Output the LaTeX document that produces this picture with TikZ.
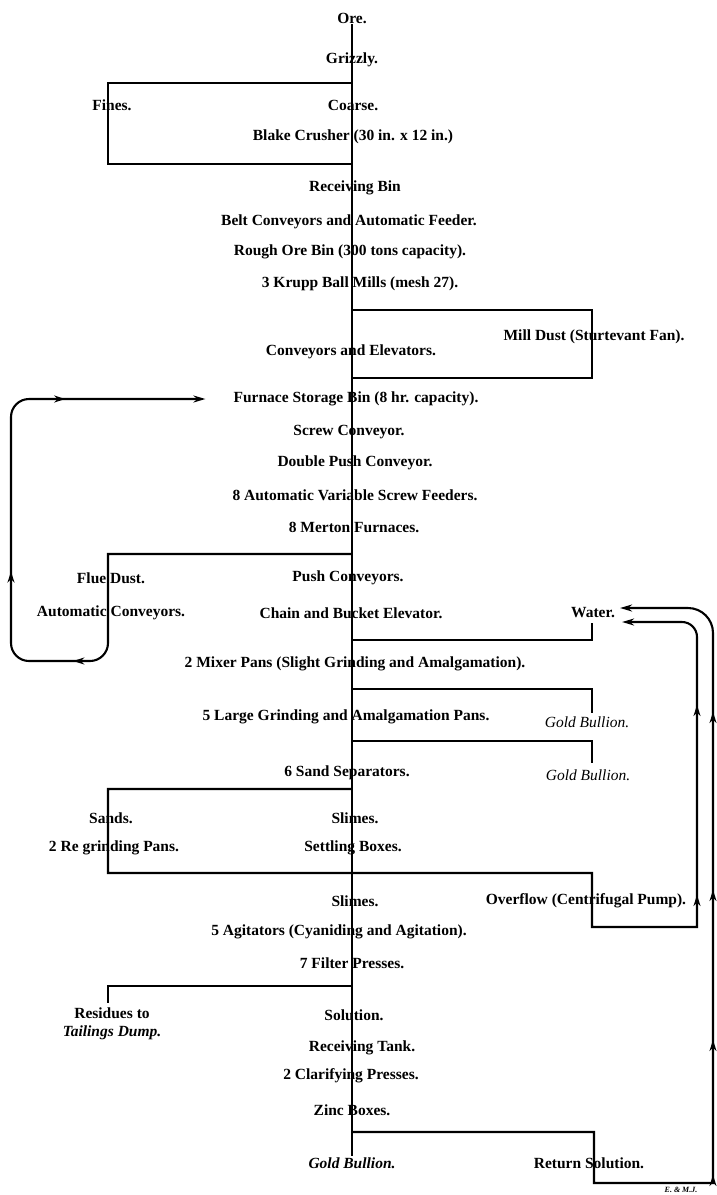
\documentclass[tikz,border=0pt]{standalone}
\usepackage{fontspec}
\setmainfont{Liberation Serif}
\usetikzlibrary{arrows.meta,decorations.markings}

\tikzset{
  stage/.style={font=\fontsize{15.5}{18}\selectfont\bfseries, inner sep=1pt},
  bullion/.style={font=\fontsize{15.5}{18}\selectfont\itshape, inner sep=1pt},
  flow/.style={line width=2.1pt},
  tip/.style={-{Stealth[length=12pt,width=7pt]}},
  midarrows/.style={postaction={decorate}, decoration={markings, #1}},
}
\newcommand{\midtip}{\arrow{Stealth[length=11pt,width=7pt]}}

\begin{document}
\begin{tikzpicture}[x=1pt, y=-1pt]
\useasboundingbox (0,0) rectangle (717,1195);

% main column
\node[stage] (ore) at (352,18) {Ore.};
\node[stage] (grizzly) at (352,60) {Grizzly.};
\node[stage] (fines) at (112,105) {Fines.};
\node[stage] (coarse) at (353,105) {Coarse.};
\node[stage] (crusher) at (353,137) {Blake Crusher (30 in. x 12 in.)};
\node[stage] (recbin) at (355,188) {Receiving Bin};
\node[stage] (belt) at (349,222) {Belt Conveyors and Automatic Feeder.};
\node[stage] (roughbin) at (350,252) {Rough Ore Bin (300 tons capacity).};
\node[stage] (ballmills) at (360,284) {3 Krupp Ball Mills (mesh 27).};
\node[stage] (milldust) at (594,337) {Mill Dust (Sturtevant Fan).};
\node[stage] (elevators) at (351,352) {Conveyors and Elevators.};
\node[stage] (storage) at (356,399) {Furnace Storage Bin (8 hr. capacity).};
\node[stage] (screw) at (349,432) {Screw Conveyor.};
\node[stage] (doublepush) at (355,463) {Double Push Conveyor.};
\node[stage] (feeders) at (355,495) {8 Automatic Variable Screw Feeders.};
\node[stage] (furnaces) at (354,527) {8 Merton Furnaces.};
\node[stage] (flue) at (111,578) {Flue Dust.};
\node[stage] (push) at (348,578) {Push Conveyors.};
\node[stage] (autoconv) at (111,613) {Automatic Conveyors.};
\node[stage] (chain) at (351,613) {Chain and Bucket Elevator.};
\node[stage] (water) at (593,613) {Water.};
\node[stage] (mixer) at (355,664) {2 Mixer Pans (Slight Grinding and Amalgamation).};
\node[stage] (largepans) at (346,717) {5 Large Grinding and Amalgamation Pans.};
\node[bullion] (bullionA) at (587,722) {Gold Bullion.};
\node[stage] (separators) at (347,773) {6 Sand Separators.};
\node[bullion] (bullionB) at (588,775) {Gold Bullion.};
\node[stage] (sands) at (111,818) {Sands.};
\node[stage] (slimesA) at (355,818) {Slimes.};
\node[stage] (regrind) at (114,848) {2 Re grinding Pans.};
\node[stage] (settling) at (353,848) {Settling Boxes.};
\node[stage] (slimesB) at (355,901) {Slimes.};
\node[stage] (overflow) at (586,901) {Overflow (Centrifugal Pump).};
\node[stage] (agitators) at (339,932) {5 Agitators (Cyaniding and Agitation).};
\node[stage] (filter) at (352,963) {7 Filter Presses.};
\node[stage, align=center] (residues) at (112,1024) {Residues to\\\textit{Tailings Dump.}};
\node[stage] (solution) at (354,1015) {Solution.};
\node[stage] (rectank) at (362,1048) {Receiving Tank.};
\node[stage] (clarify) at (351,1076) {2 Clarifying Presses.};
\node[stage] (zinc) at (352,1110) {Zinc Boxes.};
\node[stage, font=\fontsize{15.5}{18}\selectfont\bfseries\itshape] (bullionC) at (352,1163) {Gold Bullion.};
\node[stage] (retsol) at (589,1163) {Return Solution.};
\node[font=\fontsize{8}{9}\selectfont\bfseries\itshape, inner sep=0pt] (credit) at (681,1190) {E. \& M.J.};

% junctions on the main line
\coordinate (jfines) at (352,83);
\coordinate (jcrush) at (352,164);
\coordinate (jmillT) at (352,310);
\coordinate (jmillB) at (352,378);
\coordinate (jflue) at (352,554);
\coordinate (jwater) at (352,640);
\coordinate (jgoldA) at (352,689);
\coordinate (jgoldB) at (352,741);
\coordinate (jsands) at (352,789);
\coordinate (jres) at (352,986);
\coordinate (jret) at (352,1132);

\draw[flow] (ore.south) -- (bullionC.north);

\draw[flow] (jfines) -| (108,164) -- (jcrush);
\draw[flow] (jmillT) -| (592,378) -- (jmillB);
\draw[flow] (jwater) -| (592,623);
\draw[flow] (jgoldA) -| (592,713);
\draw[flow] (jgoldB) -| (592,763);
\draw[flow] (jres) -| (108,1003);

% flue dust returned to the storage bin
\draw[flow, tip, midarrows={mark=at position 378pt with {\midtip}, mark=at position 522pt with {\midtip}, mark=at position 741pt with {\midtip}}]
  (jflue) -- (108,554) -- (108,600) [rounded corners=18pt] -- (108,661) -- (11,661) |- ([xshift=-27pt]storage.west);

% sands, slimes and overflow to water
\draw[flow, tip, midarrows={mark=at position 1003pt with {\midtip}, mark=at position 1193pt with {\midtip}}]
  (jsands) -- (108,789) -- (108,873) -- (592,873) -- (592,927) -- (697,927) -- (697,700) [rounded corners=15pt] -- (697,622) -- ([xshift=6pt,yshift=-9pt]water.east);

% return solution to water
\draw[flow, tip, midarrows={mark=at position 420pt with {\midtip}, mark=at position 555pt with {\midtip}, mark=at position 705pt with {\midtip}, mark=at position 883pt with {\midtip}}]
  (jret) -- (594,1132) -- (594,1183) -- (713,1183) -- (713,700) [rounded corners=25pt] -- (713,608) -- ([xshift=4pt,yshift=5pt]water.east);

\end{tikzpicture}
\end{document}
